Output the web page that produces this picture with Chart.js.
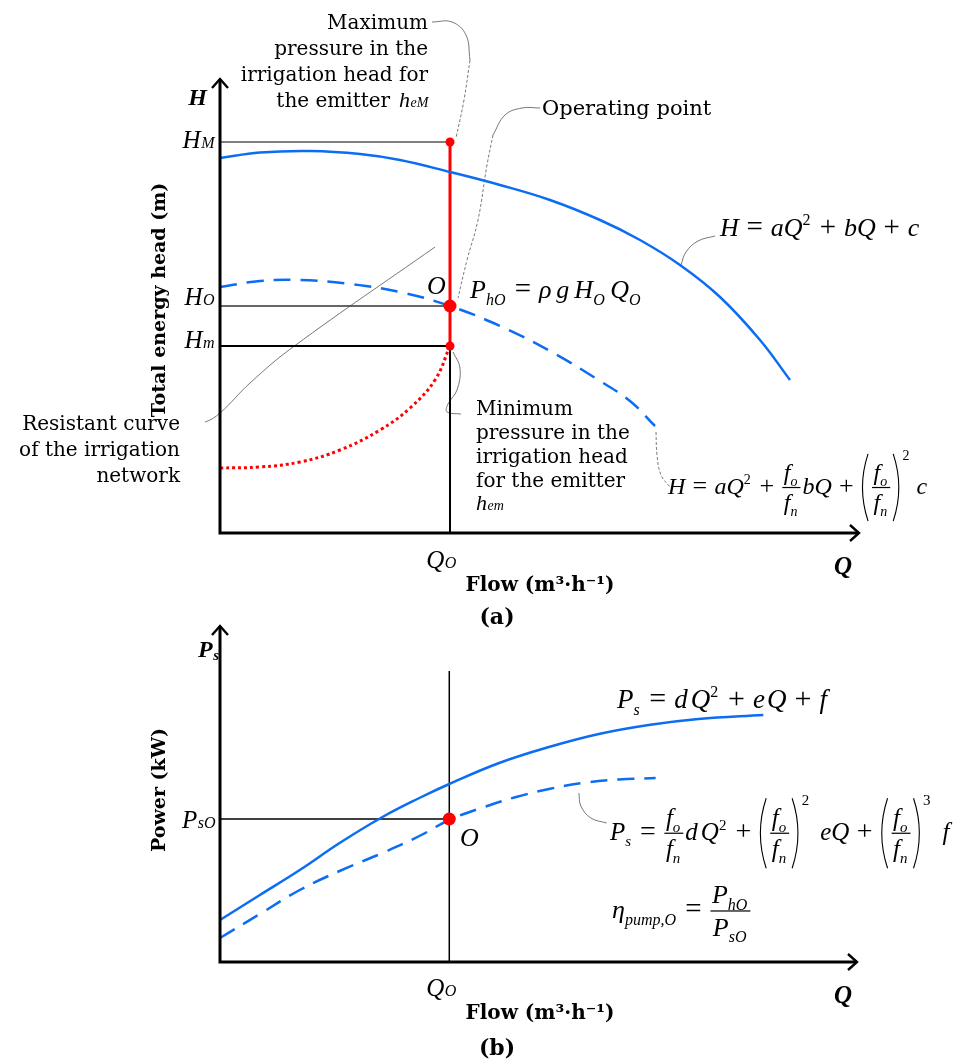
<!DOCTYPE html>
<html lang="en">
<head>
<meta charset="UTF-8">
<title>Pump curves and operating point</title>
<script src="https://cdn.jsdelivr.net/npm/chart.js"></script>
<style>
  body { margin: 0; background: #fff; }
  #wrap { position: relative; width: 978px; height: 1064px; }
  canvas { position: absolute; left: 0; }
</style>
</head>
<body>
<div id="wrap">
  <canvas id="headChart" width="978" height="640" style="top:0"></canvas>
  <canvas id="powerChart" width="978" height="449" style="top:615px"></canvas>
</div>
<script>
// ---- schematic units: flow 0..64, head 0..45.5, power 0..33.7
const qO = 23;
const headMax = 39.1, headOp = 22.7, headMin = 18.7;
const powerOp = 14.3;

// pump curve at nominal speed, H = aQ^2 + bQ + c
const pumpQ = [0, 4, 9, 14, 18, 23, 28, 33, 38, 42, 46, 50, 54, 57];
const pumpH = [37.5, 38.05, 38.2, 37.9, 37.3, 36.1, 34.8, 33.3, 31.3, 29.3, 26.8, 23.6, 19.3, 15.3];
// pump curve at reduced speed
const pumpRedQ = [0, 4, 8, 13, 18, 23, 28, 33, 38, 41, 43.5];
const pumpRedH = [24.6, 25.2, 25.3, 24.9, 24.1, 22.7, 20.7, 18.2, 15.2, 13.2, 10.7];
// resistant curve of the network
const netQ = [0, 4, 8, 12, 16, 19, 21.5, 23];
const netH = [6.5, 6.6, 7.1, 8.3, 10.3, 12.5, 15.3, 18.7];

// power curves
const powerQ = [0, 4, 8, 12, 16.3, 20, 23, 28, 33, 38, 43, 48, 54.5];
const powerP = [4.2, 6.7, 9.2, 11.9, 14.5, 16.4, 17.8, 19.9, 21.5, 22.8, 23.7, 24.3, 24.7];
const powerRedQ = [0, 4, 8, 12, 16.3, 20, 23, 26.5, 29.7, 33, 36.3, 40, 43.7];
const powerRedP = [2.4, 4.8, 7.2, 9.1, 10.9, 12.6, 14.2, 15.5, 16.5, 17.3, 17.9, 18.25, 18.4];

// leader lines (callouts)
const maxLeadQ = [21.2, 23.2, 24.6, 25.0], maxLeadH = [51.1, 51.1, 49.8, 47.3];
const maxDashQ = [25.0, 24.4, 23.6], maxDashH = [47.3, 43.3, 39.5];
const opLeadQ = [32, 30.2, 28.5, 27.3], opLeadH = [42.5, 42.5, 41.8, 39.8];
const opDashQ = [27.3, 26.7, 25.8, 24.7, 23.8], opDashH = [39.8, 36.8, 31.3, 27.3, 23.5];
const hLeadQ = [49.5, 47.8, 46.6, 46.1], hLeadH = [29.7, 29.2, 28.1, 26.8];
const minLeadQ = [23.3, 24.0, 23.7, 22.8, 22.7, 24.1], minLeadH = [18.1, 16.5, 14.3, 12.9, 12.1, 11.9];
const redLeadQ = [43.6, 43.7, 44.1, 45.0], redLeadH = [10.1, 7.8, 5.8, 4.6];
const resistQ = [-3, -1.5, 0, 3, 7.3, 21.5], resistH = [11, 11.1, 12, 15, 18.6, 28.6];
const psLeadQ = [36, 36.2, 37.2, 38.8], psLeadP = [16.9, 15.6, 14.4, 13.9];

const BLUE = '#0b6cf4', RED = '#ff0000', GUIDE = '#555';
const SERIF = '"DejaVu Serif", serif';
const MATH = '"Liberation Serif", serif';

const pts = (xs, ys) => xs.map((x, i) => ({ x: x, y: ys[i] }));

function curve(xs, ys, extra) {
  return Object.assign({
    data: pts(xs, ys), borderColor: BLUE, borderWidth: 2.5, pointRadius: 0,
    tension: 0.4, fill: false, clip: false, order: 2
  }, extra);
}
function leader(xs, ys, dashed) {
  return {
    data: pts(xs, ys), borderColor: GUIDE, borderWidth: 0.8, pointRadius: 0,
    tension: 0.4, borderDash: dashed ? [3, 2] : [], fill: false, clip: false, order: 4
  };
}
function guide(xs, ys, color, width) {
  return {
    data: pts(xs, ys), borderColor: color, borderWidth: width, pointRadius: 0,
    tension: 0, fill: false, clip: false, order: 3
  };
}

// ---- small math typesetter
function drawMath(ctx, x, y, toks, s, measure) {
  let cx = x;
  for (const t of toks) {
    const k = t[0];
    if (k === 'i' || k === 'n') {
      ctx.font = (k === 'i' ? 'italic ' : '') + s + 'px ' + MATH;
      if (!measure) ctx.fillText(t[1], cx, y);
      cx += ctx.measureText(t[1]).width;
    } else if (k === 'op') {
      ctx.font = Math.round(s * 1.1) + 'px ' + MATH;
      const pad = s * 0.3;
      if (!measure) ctx.fillText(t[1], cx + pad, y);
      cx += ctx.measureText(t[1]).width + 2 * pad;
    } else if (k === 'sub' || k === 'sup') {
      const ss = Math.round(s * 0.6);
      ctx.font = (t[2] === 'n' ? '' : 'italic ') + ss + 'px ' + MATH;
      const dy = k === 'sub' ? s * 0.25 : -s * 0.42;
      if (!measure) ctx.fillText(t[1], cx, y + dy);
      cx += ctx.measureText(t[1]).width + 1.5;
    } else if (k === 'sp') {
      cx += t[1];
    } else if (k === 'frac') {
      const wn = drawMath(ctx, 0, 0, t[1], s, true);
      const wd = drawMath(ctx, 0, 0, t[2], s, true);
      const w = Math.max(wn, wd) + 5;
      const by = y - s * 0.27;
      if (!measure) {
        drawMath(ctx, cx + (w - wn) / 2, by - s * 0.3, t[1], s);
        drawMath(ctx, cx + (w - wd) / 2, by + s * 0.95, t[2], s);
        ctx.fillRect(cx + 1, by - 0.6, w - 2, 1.2);
      }
      cx += w + 1;
    } else if (k === 'lp' || k === 'rp') {
      const h = s * 1.4, by = y - s * 0.27, w = s * 0.3;
      if (!measure) {
        ctx.beginPath();
        if (k === 'lp') {
          ctx.moveTo(cx + w, by - h);
          ctx.quadraticCurveTo(cx - w * 0.55, by, cx + w, by + h);
        } else {
          ctx.moveTo(cx + 1, by - h);
          ctx.quadraticCurveTo(cx + 1 + w * 1.55, by, cx + 1, by + h);
        }
        ctx.lineWidth = 1.1;
        ctx.strokeStyle = '#000';
        ctx.stroke();
      }
      cx += w + 3;
    } else if (k === 'psup') {
      ctx.font = Math.round(s * 0.6) + 'px ' + MATH;
      if (!measure) ctx.fillText(t[1], cx, y - s * 1.4);
      cx += ctx.measureText(t[1]).width + 2;
    }
  }
  return cx - x;
}

// italic symbol with a small on-baseline index (H_M, Q_O, P_sO ...)
function sym(ctx, x, y, main, sub, s, align, bold) {
  const fm = (bold ? 'bold ' : '') + 'italic ' + s + 'px ' + MATH;
  const fs = (bold ? 'bold ' : '') + 'italic ' + Math.round(s * 0.62) + 'px ' + MATH;
  ctx.font = fm; const wm = ctx.measureText(main).width;
  ctx.font = fs; const ws = ctx.measureText(sub).width;
  let x0 = x;
  if (align === 'right') x0 = x - wm - ws;
  if (align === 'center') x0 = x - (wm + ws) / 2;
  ctx.textAlign = 'left';
  ctx.font = fm; ctx.fillText(main, x0, y);
  ctx.font = fs; ctx.fillText(sub, x0 + wm + 0.5, y + (bold ? 3 : 0));
  return wm + ws;
}

function text(ctx, str, x, y, font, align) {
  ctx.font = font; ctx.textAlign = align || 'left'; ctx.fillText(str, x, y);
  ctx.textAlign = 'left';
}

function drawAxes(ctx, area) {
  ctx.save();
  ctx.strokeStyle = '#000';
  ctx.lineWidth = 3;
  ctx.beginPath();
  ctx.moveTo(area.left, area.top + 1);
  ctx.lineTo(area.left, area.bottom);
  ctx.lineTo(area.right - 1, area.bottom);
  ctx.stroke();
  ctx.lineWidth = 2.4;
  ctx.beginPath();
  ctx.moveTo(area.left - 8, area.top + 10);
  ctx.lineTo(area.left, area.top + 1);
  ctx.lineTo(area.left + 8, area.top + 10);
  ctx.moveTo(area.right - 10, area.bottom - 8);
  ctx.lineTo(area.right - 1, area.bottom);
  ctx.lineTo(area.right - 10, area.bottom + 8);
  ctx.stroke();
  ctx.restore();
}

const fracF = ['frac', [['i', 'f'], ['sub', 'o']], [['i', 'f'], ['sub', 'n']]];

const hPumpEq = [['i', 'H'], ['op', '='], ['i', 'a'], ['i', 'Q'], ['sup', '2', 'n'], ['op', '+'],
  ['i', 'b'], ['i', 'Q'], ['op', '+'], ['i', 'c']];
const hRedEq = [['i', 'H'], ['op', '='], ['i', 'a'], ['i', 'Q'], ['sup', '2', 'n'], ['op', '+'], fracF,
  ['i', 'b'], ['i', 'Q'], ['op', '+'], ['lp'], fracF, ['rp'], ['psup', '2'], ['sp', 5], ['i', 'c']];
const phEq = [['i', 'P'], ['sub', 'hO'], ['op', '='], ['i', 'ρ'], ['sp', 5], ['i', 'g'], ['sp', 5],
  ['i', 'H'], ['sub', 'O'], ['sp', 4], ['i', 'Q'], ['sub', 'O']];
const psEq = [['i', 'P'], ['sub', 's'], ['op', '='], ['i', 'd'], ['sp', 3], ['i', 'Q'], ['sup', '2', 'n'],
  ['op', '+'], ['i', 'e'], ['sp', 2], ['i', 'Q'], ['op', '+'], ['i', 'f']];
const psRedEq = [['i', 'P'], ['sub', 's'], ['op', '='], fracF, ['i', 'd'], ['sp', 3], ['i', 'Q'], ['sup', '2', 'n'],
  ['op', '+'], ['lp'], fracF, ['rp'], ['psup', '2'], ['sp', 9], ['i', 'e'], ['i', 'Q'], ['op', '+'],
  ['lp'], fracF, ['rp'], ['psup', '3'], ['sp', 10], ['i', 'f']];
const etaEq = [['i', 'η'], ['sub', 'pump,O'], ['op', '='],
  ['frac', [['i', 'P'], ['sub', 'hO']], [['i', 'P'], ['sub', 'sO']]]];

// ---- annotation plugins (page coordinates, shifted by canvas top)
const headNotes = {
  id: 'headNotes',
  afterDatasetsDraw(chart) {
    const ctx = chart.ctx;
    ctx.save();
    ctx.fillStyle = '#000';
    ctx.textBaseline = 'alphabetic';
    drawAxes(ctx, chart.chartArea);

    const f20 = '20px ' + SERIF;
    ['Maximum', 'pressure in the', 'irrigation head for'].forEach((s, i) =>
      text(ctx, s, 428, 29 + i * 26, f20, 'right'));
    const w = sym(ctx, 428, 107, 'h', 'eM', 22, 'right');
    text(ctx, 'the emitter', 428 - w - 9, 107, f20, 'right');

    text(ctx, 'Operating point', 542, 115, '21px ' + SERIF);

    ['Resistant curve', 'of the irrigation', 'network'].forEach((s, i) =>
      text(ctx, s, 180, 430 + i * 26, f20, 'right'));
    ['Minimum', 'pressure in the', 'irrigation head', 'for the emitter'].forEach((s, i) =>
      text(ctx, s, 476, 415 + i * 24, f20));
    sym(ctx, 476, 510, 'h', 'em', 22, 'left');

    sym(ctx, 207, 105, 'H', '', 24, 'right', true);
    sym(ctx, 214, 148, 'H', 'M', 25, 'right');
    sym(ctx, 214, 305, 'H', 'O', 25, 'right');
    sym(ctx, 214, 348, 'H', 'm', 25, 'right');
    text(ctx, 'O', 427, 294, 'italic 26px ' + MATH);

    drawMath(ctx, 470, 298, phEq, 26);
    drawMath(ctx, 720, 236, hPumpEq, 26);
    drawMath(ctx, 668, 494, hRedEq, 24);

    sym(ctx, 441, 568, 'Q', 'O', 25, 'center');
    sym(ctx, 834, 574, 'Q', '', 25, 'left', true);
    text(ctx, 'Flow (m³·h⁻¹)', 540, 591, 'bold 20px ' + SERIF, 'center');
    text(ctx, '(a)', 497, 624, 'bold 22px ' + SERIF, 'center');

    ctx.translate(160, 300);
    ctx.rotate(-Math.PI / 2);
    ctx.textBaseline = 'middle';
    text(ctx, 'Total energy head (m)', 0, 0, 'bold 19px ' + SERIF, 'center');
    ctx.restore();
  }
};

const powerNotes = {
  id: 'powerNotes',
  afterDatasetsDraw(chart) {
    const ctx = chart.ctx;
    const top = 615;
    ctx.save();
    ctx.fillStyle = '#000';
    ctx.textBaseline = 'alphabetic';
    drawAxes(ctx, chart.chartArea);

    sym(ctx, 198, 657 - top, 'P', 's', 24, 'left', true);
    sym(ctx, 215, 828 - top, 'P', 'sO', 25, 'right');
    text(ctx, 'O', 460, 846 - top, 'italic 26px ' + MATH);

    drawMath(ctx, 617, 708 - top, psEq, 27);
    drawMath(ctx, 610, 840 - top, psRedEq, 25);
    drawMath(ctx, 612, 918 - top, etaEq, 26);

    sym(ctx, 441, 996 - top, 'Q', 'O', 25, 'center');
    sym(ctx, 834, 1003 - top, 'Q', '', 25, 'left', true);
    text(ctx, 'Flow (m³·h⁻¹)', 540, 1019 - top, 'bold 20px ' + SERIF, 'center');
    text(ctx, '(b)', 497, 1055 - top, 'bold 22px ' + SERIF, 'center');

    ctx.translate(160, 790 - top);
    ctx.rotate(-Math.PI / 2);
    ctx.textBaseline = 'middle';
    text(ctx, 'Power (kW)', 0, 0, 'bold 19px ' + SERIF, 'center');
    ctx.restore();
  }
};

const baseOptions = (yMax, pad) => ({
  responsive: false,
  animation: false,
  layout: { padding: pad },
  plugins: { legend: { display: false }, tooltip: { enabled: false } },
  scales: {
    x: { type: 'linear', min: 0, max: 64, display: false },
    y: { type: 'linear', min: 0, max: yMax, display: false }
  }
});

// ---- (a) head vs flow
new Chart(document.getElementById('headChart'), {
  type: 'line',
  data: {
    datasets: [
      {
        data: pts([qO, qO, qO], [headMax, headOp, headMin]),
        showLine: false, pointRadius: [4.5, 6.5, 4.5], pointBackgroundColor: RED,
        pointBorderWidth: 0, clip: false, order: 0
      },
      guide([qO, qO], [headMin, headMax], RED, 3),
      curve(pumpQ, pumpH),
      curve(pumpRedQ, pumpRedH, { borderDash: [17, 10] }),
      curve(netQ, netH, { borderColor: RED, borderWidth: 3, borderDash: [3, 3] }),
      guide([0, qO], [headMax, headMax], GUIDE, 1.4),
      guide([0, qO], [headOp, headOp], '#333', 1.4),
      guide([0, qO], [headMin, headMin], '#000', 2),
      guide([qO, qO], [0, headMin], '#000', 2),
      leader(resistQ, resistH, false),
      leader(maxLeadQ, maxLeadH, false),
      leader(maxDashQ, maxDashH, true),
      leader(opLeadQ, opLeadH, false),
      leader(opDashQ, opDashH, true),
      leader(hLeadQ, hLeadH, false),
      leader(minLeadQ, minLeadH, false),
      leader(redLeadQ, redLeadH, true)
    ]
  },
  options: baseOptions(45.5, { left: 220, right: 118, top: 78, bottom: 107 }),
  plugins: [headNotes]
});

// ---- (b) power vs flow
new Chart(document.getElementById('powerChart'), {
  type: 'line',
  data: {
    datasets: [
      {
        data: pts([qO], [powerOp]), showLine: false, pointRadius: 6.5,
        pointBackgroundColor: RED, pointBorderWidth: 0, clip: false, order: 0
      },
      curve(powerQ, powerP),
      curve(powerRedQ, powerRedP, { borderDash: [17, 10] }),
      guide([0, qO], [powerOp, powerOp], '#000', 1.5),
      guide([qO, qO], [0, 29.1], '#000', 1.5),
      leader(psLeadQ, psLeadP, false)
    ]
  },
  options: baseOptions(33.7, { left: 220, right: 120, top: 10, bottom: 102 }),
  plugins: [powerNotes]
});
</script>
</body>
</html>
